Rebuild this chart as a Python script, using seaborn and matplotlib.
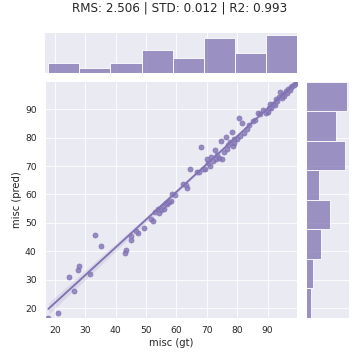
import matplotlib
matplotlib.use("Agg")
import matplotlib.pyplot as plt
import pandas as pd
import seaborn as sns

gt = [17.8, 21.1, 26.4, 24.7, 27.7, 28.0,
      31.6, 33.3, 35.3,
      42.9, 43.3, 44.9, 45.2, 46.8, 47.5,
      49.2, 51.5, 52.2, 53.0, 53.9, 54.4, 55.0, 55.5, 56.0, 56.5, 57.0, 57.5, 58.3, 58.6,
      59.5, 62.2, 63.0, 63.6, 64.4, 66.8, 67.5, 68.1, 68.8,
      69.5, 70.2, 70.5, 71.0, 71.5, 72.0, 72.6, 73.0, 73.5, 74.0, 74.6, 74.9, 75.5,
      76.2, 76.8, 77.0, 77.5, 78.2, 78.5, 78.8, 79.0,
      80.0, 80.6, 80.9, 81.5, 82.2, 83.3, 84.0, 85.2, 86.0, 86.7, 87.5, 88.5,
      89.6, 90.0, 90.4, 90.9, 91.3, 91.8, 92.3, 92.8, 93.2, 93.7, 94.2, 94.6,
      95.0, 95.5, 96.0, 96.4, 96.8, 97.3, 97.8, 98.2, 98.6, 99.1, 99.7]
pred = [16.6, 18.3, 26.0, 31.0, 33.5, 34.9,
        32.0, 45.8, 41.9,
        39.5, 40.5, 44.1, 45.3, 47.2, 46.5,
        48.2, 51.5, 50.7, 53.9, 55.0, 53.5, 54.5, 56.0, 55.0, 57.0, 56.5, 57.4, 57.8, 60.0,
        59.7, 63.8, 63.5, 62.3, 69.1, 68.0, 67.8, 76.8, 69.1,
        68.9, 72.6, 71.0, 70.2, 73.2, 71.8, 75.6, 72.5, 74.0, 73.0, 78.7, 72.6, 75.0,
        80.3, 76.0, 77.5, 78.4, 82.0, 77.2, 78.0, 79.6,
        79.5, 87.0, 80.6, 85.0, 81.5, 83.2, 84.5, 85.8, 86.3, 88.7, 88.2, 89.8,
        88.5, 89.0, 90.3, 91.7, 90.5, 92.0, 91.5, 93.5, 92.8, 94.3, 96.1, 93.8,
        95.2, 94.8, 96.5, 95.7, 97.2, 96.8, 97.9, 98.0, 98.5, 99.0, 99.7]

title = "RMS: 2.506 | STD: 0.012 | R2: 0.993"

sns.set_theme(style="darkgrid")
color = sns.color_palette("deep")[4]

df = pd.DataFrame({"misc (gt)": gt, "misc (pred)": pred})
lo = min(min(gt), min(pred))
hi = max(max(gt), max(pred))

g = sns.jointplot(data=df, x="misc (gt)", y="misc (pred)", kind="reg",
                  color=color, height=6, xlim=(lo, hi), ylim=(lo, hi),
                  marginal_kws={"kde": False, "bins": 8})
g.figure.suptitle(title, fontsize=14.4, y=0.997, va="top")
g.figure.subplots_adjust(left=0.124, right=0.97, top=0.909, bottom=0.117)

g.figure.savefig("out.png", dpi=60)
